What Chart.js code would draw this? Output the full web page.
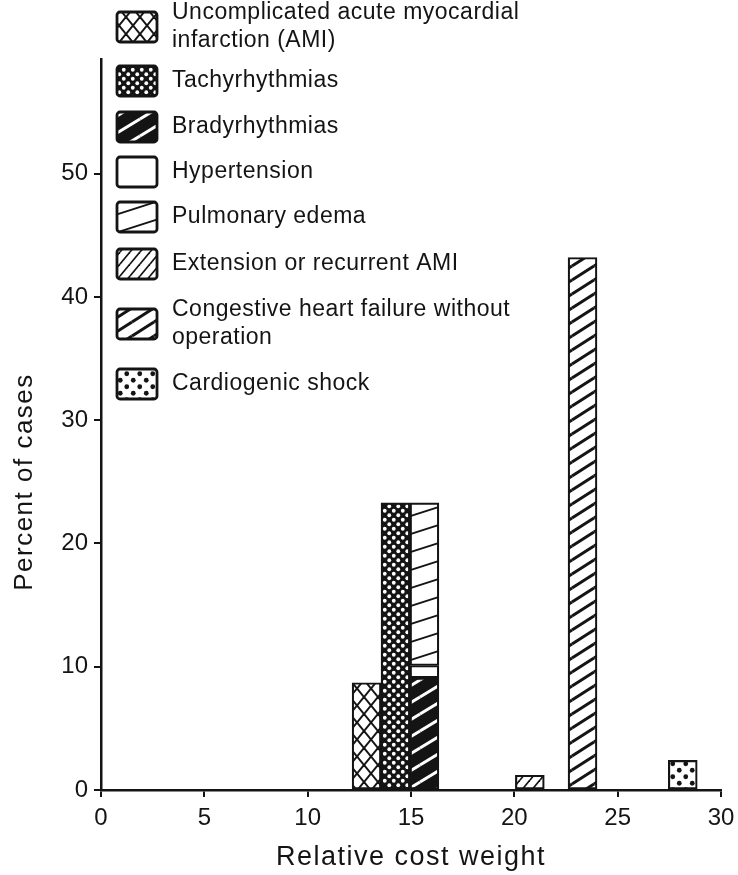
<!DOCTYPE html>
<html>
<head>
<meta charset="utf-8">
<script src="https://cdn.jsdelivr.net/npm/chart.js@4.4.1/dist/chart.umd.min.js"></script>
<style>
  html, body { margin: 0; padding: 0; background: #fff; }
  #wrap { width: 738px; height: 875px; }
</style>
</head>
<body>
<div id="wrap"><canvas id="costChart" width="738" height="875"></canvas></div>
<script>
// bins on the relative cost weight axis (bar centres)
const binCentres = [12.85, 14.25, 15.65, 20.75, 23.3, 28.15];

// percent of cases per bin, one array per complication
const uncomplicatedAMI = [8.7, null, null, null, null, null];
const tachyrhythmias   = [null, 23.3, null, null, null, null];
const bradyrhythmias   = [null, null, 9.1, null, null, null];
const hypertension     = [null, null, 1.0, null, null, null];
const pulmonaryEdema   = [null, null, 13.2, null, null, null];
const extensionAMI     = [null, null, null, 1.2, null, null];
const congestiveHF     = [null, null, null, null, 43.2, null];
const cardiogenicShock = [null, null, null, null, null, 2.4];

const seriesNames = [
  ['Uncomplicated acute myocardial', 'infarction (AMI)'],
  ['Tachyrhythmias'],
  ['Bradyrhythmias'],
  ['Hypertension'],
  ['Pulmonary edema'],
  ['Extension or recurrent AMI'],
  ['Congestive heart failure without', 'operation'],
  ['Cardiogenic shock']
];

const xTicks = [0, 5, 10, 15, 20, 25, 30];
const yTicks = [0, 10, 20, 30, 40, 50];
const xTitle = 'Relative cost weight';
const yTitle = 'Percent of cases';

const ink = '#141414';
const family = "'Liberation Sans', Arial, sans-serif";

// legend: first text line of each entry
const legendRows = [13, 81, 127, 172, 217, 264, 310, 384];

const canvas = document.getElementById('costChart');
const ctx = canvas.getContext('2d');

// little tiles for the fill patterns
function tile(w, h, bg, paint) {
  const c = document.createElement('canvas');
  c.width = w; c.height = h;
  const g = c.getContext('2d');
  g.fillStyle = bg;
  g.fillRect(0, 0, w, h);
  paint(g, w, h);
  return ctx.createPattern(c, 'repeat');
}

function hatch(w, h, bg, fg, lw, segs) {
  return tile(w, h, bg, g => {
    g.strokeStyle = fg;
    g.lineWidth = lw;
    for (const dx of [-w, 0, w]) {
      for (const dy of [-h, 0, h]) {
        segs.forEach(s => {
          g.beginPath();
          g.moveTo(s[0] + dx, s[1] + dy);
          g.lineTo(s[2] + dx, s[3] + dy);
          g.stroke();
        });
      }
    }
  });
}

function dots(w, h, bg, fg, r) {
  return tile(w, h, bg, g => {
    g.fillStyle = fg;
    for (const dx of [-w, 0, w]) {
      for (const dy of [-h, 0, h]) {
        [[w / 4, h / 4], [3 * w / 4, 3 * h / 4]].forEach(p => {
          g.beginPath();
          g.arc(p[0] + dx, p[1] + dy, r, 0, Math.PI * 2);
          g.fill();
        });
      }
    }
  });
}

const patterns = [
  hatch(14, 17, '#fff', ink, 2, [[0, 0, 14, 17], [0, 17, 14, 0]]),
  dots(9, 9, ink, '#fff', 1.9),
  hatch(28, 17, ink, '#fff', 3, [[0, 17, 28, 0]]),
  '#fff',
  hatch(56, 18, '#fff', ink, 1.8, [[0, 18, 56, 0]]),
  hatch(10, 12, '#fff', ink, 1.7, [[0, 12, 10, 0]]),
  hatch(22, 14, '#fff', ink, 3, [[0, 14, 22, 0]]),
  dots(13, 13, '#fff', ink, 2.4)
];

const seriesValues = [uncomplicatedAMI, tachyrhythmias, bradyrhythmias, hypertension,
  pulmonaryEdema, extensionAMI, congestiveHF, cardiogenicShock];

// stack the column at 15 by hand as floating bars
const base = binCentres.map(() => 0);
const datasets = seriesValues.map((vals, k) => {
  const data = binCentres.map((x, i) => {
    if (vals[i] == null) return { x: x, y: null };
    const lo = base[i];
    base[i] += vals[i];
    return { x: x, y: [lo, base[i]] };
  });
  return {
    label: seriesNames[k].join(' '),
    data: data,
    backgroundColor: patterns[k],
    borderColor: ink,
    borderWidth: 2.2,
    borderSkipped: false,
    grouped: false,
    categoryPercentage: 1,
    barPercentage: 1
  };
});

// legend and axis titles
const annotate = {
  id: 'annotate',
  afterDraw(chart) {
    const c = chart.ctx;
    c.save();
    c.textBaseline = 'middle';
    c.font = '23px ' + family;
    c.letterSpacing = '0.5px';
    seriesNames.forEach((lines, k) => {
      const first = legendRows[k];
      lines.forEach((t, j) => {
        c.fillStyle = ink;
        c.fillText(t, 172, first + j * 28);
      });
      const mid = first + (lines.length - 1) * 14;
      c.beginPath();
      c.roundRect(117, mid - 15, 40, 30, 3);
      c.fillStyle = patterns[k];
      c.fill();
      c.strokeStyle = ink;
      c.lineWidth = 2.8;
      c.stroke();
    });

    const xs = chart.scales.x;
    c.fillStyle = ink;
    c.textAlign = 'center';
    c.font = '27px ' + family;
    c.letterSpacing = '1.5px';
    c.fillText(xTitle, (xs.left + xs.right) / 2, 858);

    c.font = '26px ' + family;
    c.translate(25, 482);
    c.rotate(-Math.PI / 2);
    c.fillText(yTitle, 0, 0);
    c.restore();
  }
};

new Chart(ctx, {
  type: 'bar',
  data: { datasets: datasets },
  plugins: [annotate],
  options: {
    responsive: false,
    animation: false,
    devicePixelRatio: 1,
    layout: { padding: { left: 0, top: 59, right: 17, bottom: 0 } },
    plugins: {
      legend: { display: false },
      tooltip: { enabled: false }
    },
    scales: {
      x: {
        type: 'linear',
        min: 0,
        max: 30,
        offset: false,
        afterBuildTicks: s => { s.ticks = xTicks.map(v => ({ value: v })); },
        afterFit: s => { s.height = 85; s.paddingLeft = 0; s.paddingRight = 0; },
        grid: { display: true, drawOnChartArea: false, drawTicks: true, tickLength: 7, color: ink, lineWidth: 2, offset: false },
        border: { display: true, color: ink, width: 2.5 },
        ticks: { color: ink, font: { family: family, size: 24 }, padding: 7, maxRotation: 0, autoSkip: false }
      },
      y: {
        min: 0,
        max: 59.3,
        afterBuildTicks: s => { s.ticks = yTicks.map(v => ({ value: v })); },
        afterFit: s => { s.width = 101; },
        grid: { display: true, drawOnChartArea: false, drawTicks: true, tickLength: 7, color: ink, lineWidth: 2 },
        border: { display: true, color: ink, width: 2.5 },
        ticks: { color: ink, font: { family: family, size: 24 }, padding: 6 }
      }
    }
  }
});
</script>
</body>
</html>
